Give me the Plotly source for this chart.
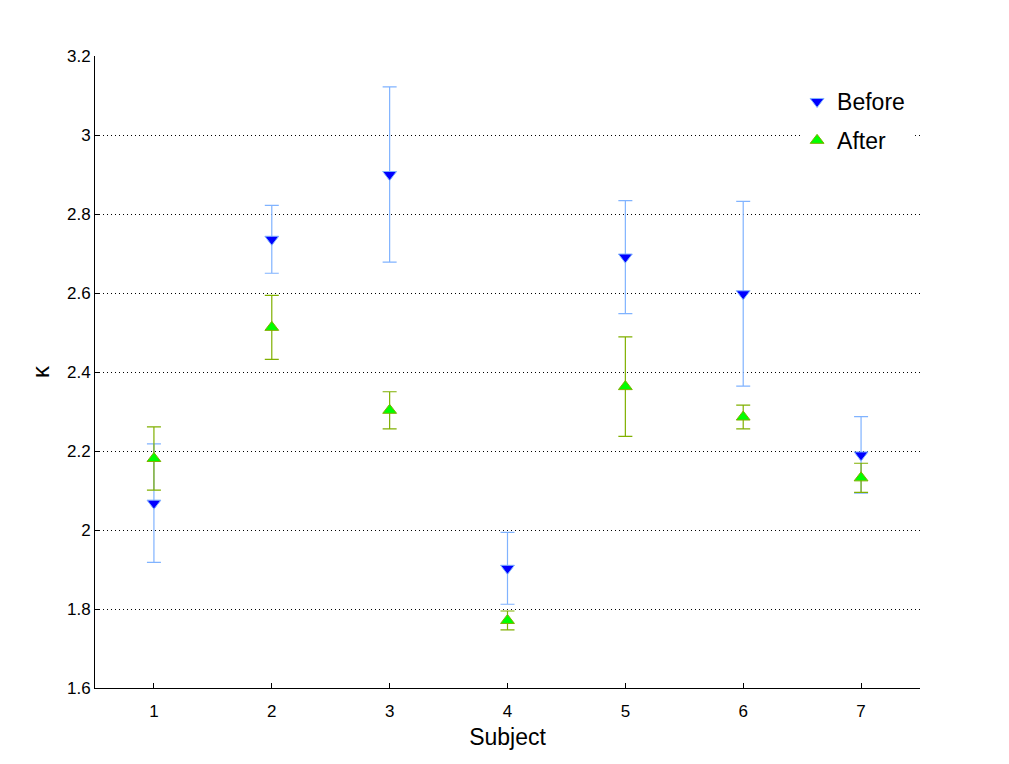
import plotly.graph_objects as go

subjects = [1, 2, 3, 4, 5, 6, 7]
before = [2.068, 2.736, 2.900, 1.903, 2.691, 2.598, 2.190]
before_err = [0.150, 0.086, 0.222, 0.091, 0.143, 0.234, 0.097]
after = [2.181, 2.513, 2.303, 1.771, 2.363, 2.286, 2.132]
after_err = [0.080, 0.081, 0.047, 0.024, 0.126, 0.030, 0.037]
ytick_vals = [1.6, 1.8, 2.0, 2.2, 2.4, 2.6, 2.8, 3.0, 3.2]
ytick_text = ["1.6", "1.8", "2", "2.2", "2.4", "2.6", "2.8", "3", "3.2"]

BLUE_ERR = "#80B3FF"
OLIVE_ERR = "#80B000"
FONT = "Liberation Sans, Arial, sans-serif"

fig = go.Figure()
fig.add_trace(go.Scatter(
    x=subjects, y=before, mode="markers", name="Before",
    legendgroup="b",
    marker=dict(symbol="triangle-down", size=12, color="#0000FF",
                line=dict(color=BLUE_ERR, width=1)),
    error_y=dict(type="data", array=before_err, symmetric=True,
                 color=BLUE_ERR, thickness=1.2, width=7),
))
fig.add_trace(go.Scatter(
    x=subjects, y=after, mode="markers", name="After",
    legendgroup="a",
    marker=dict(symbol="triangle-up", size=12, color="#00FF00",
                line=dict(color=OLIVE_ERR, width=1)),
    error_y=dict(type="data", array=after_err, symmetric=True,
                 color=OLIVE_ERR, thickness=1.2, width=7),
))

# white legend box background (hides gridlines behind legend, as in reference)
fig.add_shape(type="rect", xref="paper", yref="paper",
              x0=0.855, x1=0.994, y0=0.840, y1=0.954,
              fillcolor="white", line=dict(width=0), layer="above")

fig.update_layout(
    width=1009, height=764,
    margin=dict(l=87, r=97, t=48, b=84),
    paper_bgcolor="white", plot_bgcolor="white",
    font=dict(family=FONT, color="black", size=17),
    legend=dict(x=0.851, y=0.962, xanchor="left", yanchor="top",
                bgcolor="rgba(255,255,255,0)", borderwidth=0,
                font=dict(size=23, family=FONT),
                traceorder="grouped", tracegroupgap=6),
    xaxis=dict(
        range=[0.5, 7.5], tickvals=subjects, ticks="inside", ticklen=5,
        tickcolor="black", showline=True, linecolor="black", linewidth=1,
        mirror=False, showgrid=False, zeroline=False,
        ticklabelstandoff=8,
        title=dict(text="Subject", font=dict(size=23), standoff=8),
        tickfont=dict(size=17),
    ),
    yaxis=dict(
        range=[1.6, 3.2], tickvals=ytick_vals, ticktext=ytick_text,
        ticks="inside", ticklen=5, tickcolor="black",
        showline=True, linecolor="black", linewidth=1, mirror=False,
        showgrid=True, gridcolor="black", gridwidth=1, griddash="1px,3px",
        zeroline=False,
        title=dict(text="κ", font=dict(size=24), standoff=10),
        tickfont=dict(size=17),
    ),
)

fig.write_html("out.html")
